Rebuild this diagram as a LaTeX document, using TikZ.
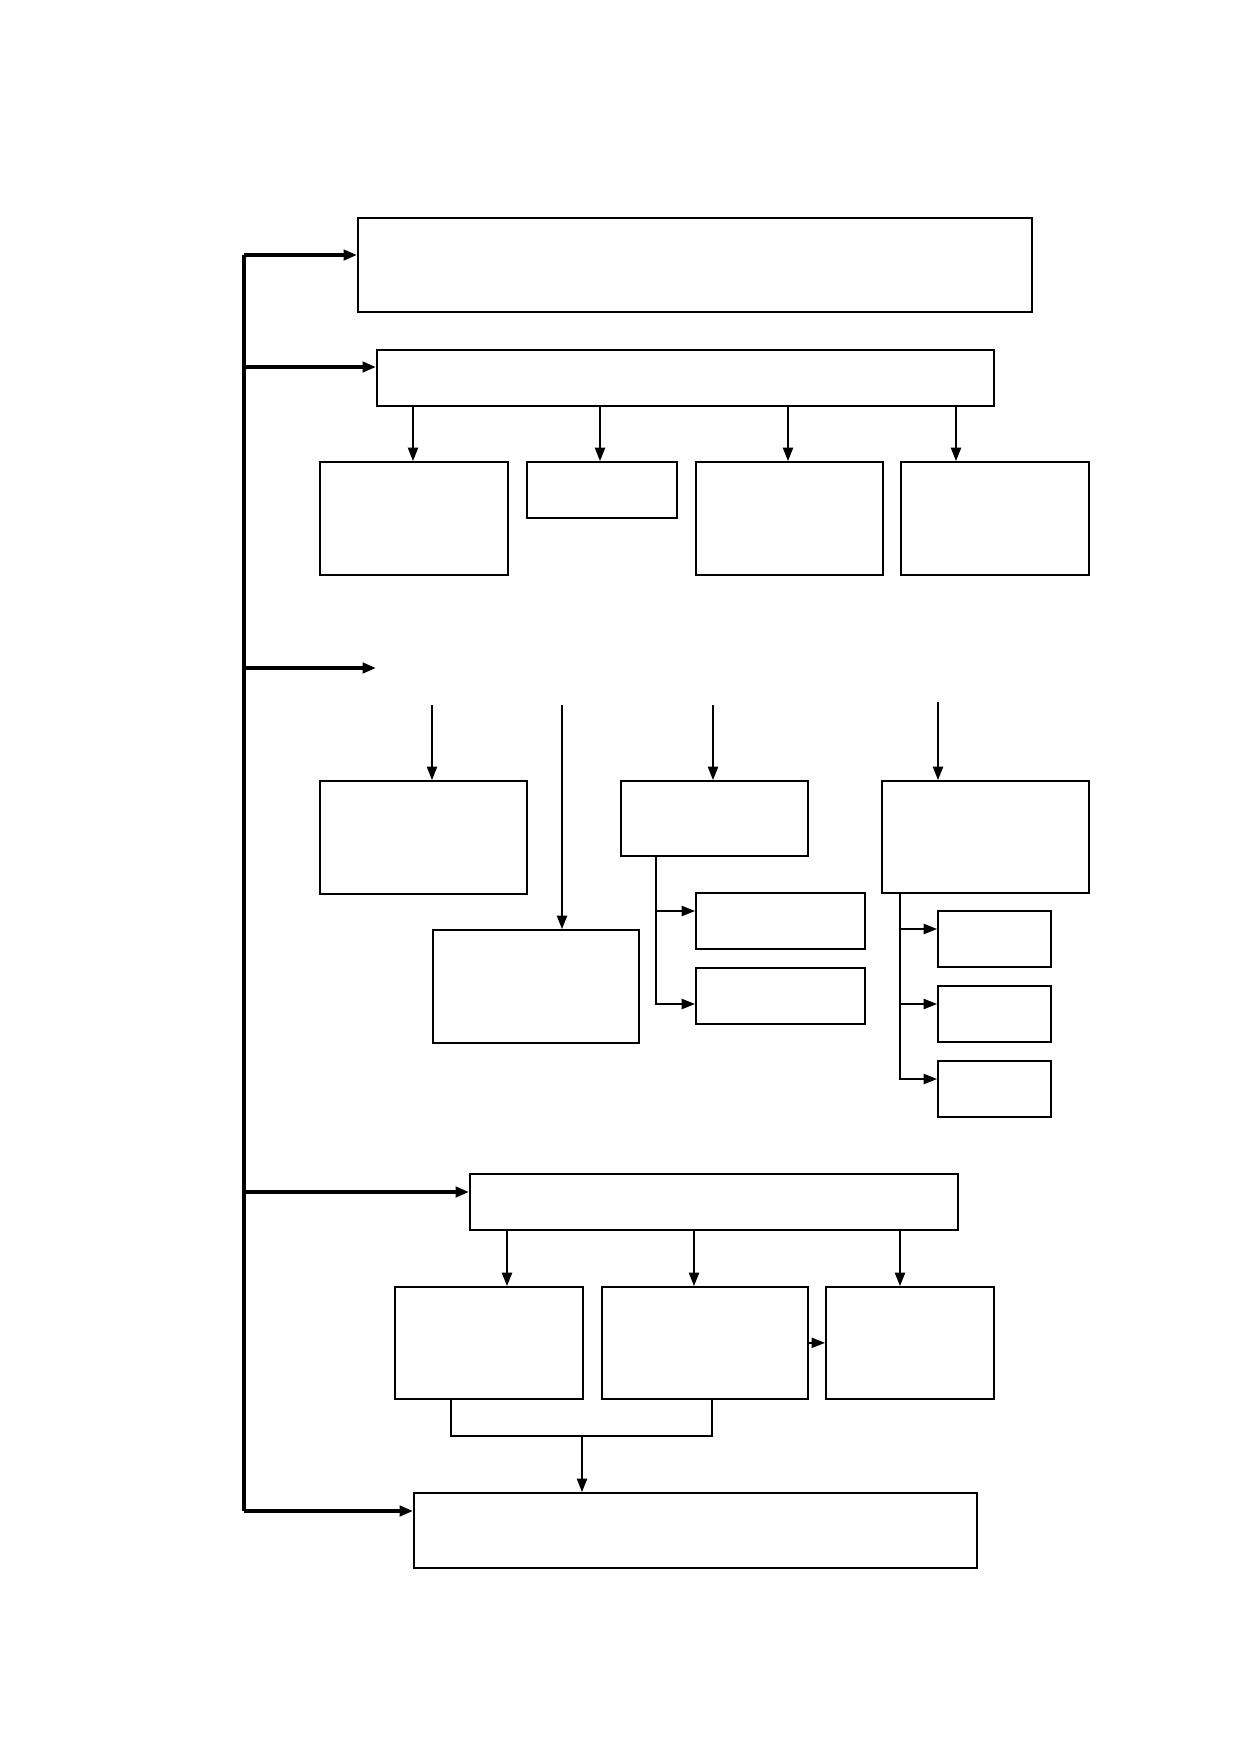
\documentclass[tikz,border=0pt]{standalone}
\usetikzlibrary{arrows.meta}
\tikzset{
	box/.style={draw,line width=0.8pt,inner sep=0pt,anchor=north west},
	sz/.style 2 args={minimum width=#1*0.4822pt,minimum height=#2*0.4822pt},
	arr/.style={line width=0.7pt,-{Triangle[length=6.5pt,width=5pt]}},
	bigarr/.style={line width=1.6pt,-{Triangle[length=6.5pt,width=5pt]}},
}
\begin{document}
\begin{tikzpicture}[x=0.4822pt,y=-0.4822pt]
			\useasboundingbox (0,0) rectangle (1239,1754);
			\node[box,sz={674}{94}] (A) at (357,217) {};
			\node[box,sz={617}{56}] (B) at (376,349) {};
			\node[box,sz={188}{113}] (C1) at (319,461) {};
			\node[box,sz={150}{56}] (C2) at (526,461) {};
			\node[box,sz={187}{113}] (C3) at (695,461) {};
			\node[box,sz={188}{113}] (C4) at (900,461) {};
			\node[box,sz={207}{113}] (D1) at (319,780) {};
			\node[box,sz={206}{113}] (D2) at (432,929) {};
			\node[box,sz={187}{75}] (D3) at (620,780) {};
			\node[box,sz={207}{112}] (D4) at (881,780) {};
			\node[box,sz={169}{56}] (E1) at (695,892) {};
			\node[box,sz={169}{56}] (E2) at (695,967) {};
			\node[box,sz={113}{56}] (F1) at (937,910) {};
			\node[box,sz={113}{56}] (F2) at (937,985) {};
			\node[box,sz={113}{56}] (F3) at (937,1060) {};
			\node[box,sz={488}{56}] (G) at (469,1173) {};
			\node[box,sz={188}{112}] (H1) at (394,1286) {};
			\node[box,sz={206}{112}] (H2) at (601,1286) {};
			\node[box,sz={168}{112}] (H3) at (825,1286) {};
			\node[box,sz={563}{75}] (I) at (413,1492) {};
			
			\coordinate (s1) at (244,255);
			\coordinate (s2) at (244,367);
			\coordinate (s3) at (244,668);
			\coordinate (s4) at (244,1192);
			\coordinate (s5) at (244,1511);
			\coordinate (M) at (376,668);
			\draw[line width=1.6pt] (s1) -- (s5);
			\draw[bigarr] (s1) -- (s1 -| A.west);
			\draw[bigarr] (s2) -- (s2 -| B.west);
			\draw[bigarr] (s3) -- (M);
			\draw[bigarr] (s4) -- (s4 -| G.west);
			\draw[bigarr] (s5) -- (s5 -| I.west);
			
			\foreach \n/\xx in {C1/413,C2/600,C3/788,C4/956}
				\draw[arr] (B.south -| \xx,0) -- (\n.north -| \xx,0);
			\foreach \n/\xx/\yy in {D1/432/705,D2/562/705,D3/713/705,D4/938/702}
				\draw[arr] (\xx,\yy) -- (\n.north -| \xx,0);
			
			\draw[arr] (D3.south -| 656,0) |- (E2.west |- 0,1004);
			\draw[arr] (656,911) -- (E1.west |- 0,911);
			\draw[arr] (D4.south -| 900,0) |- (F3.west |- 0,1079);
			\draw[arr] (900,929) -- (F1.west |- 0,929);
			\draw[arr] (900,1004) -- (F2.west |- 0,1004);
			
			\foreach \n/\xx in {H1/507,H2/694,H3/900}
				\draw[arr] (G.south -| \xx,0) -- (\n.north -| \xx,0);
			\draw[arr] (H2.east) -- (H3.west);
			\draw[line width=0.7pt] (H1.south -| 451,0) -- (451,1436) -- (712,1436) -- (H2.south -| 712,0);
			\draw[arr] (582,1436) -- (I.north -| 582,0);
\end{tikzpicture}
\end{document}
